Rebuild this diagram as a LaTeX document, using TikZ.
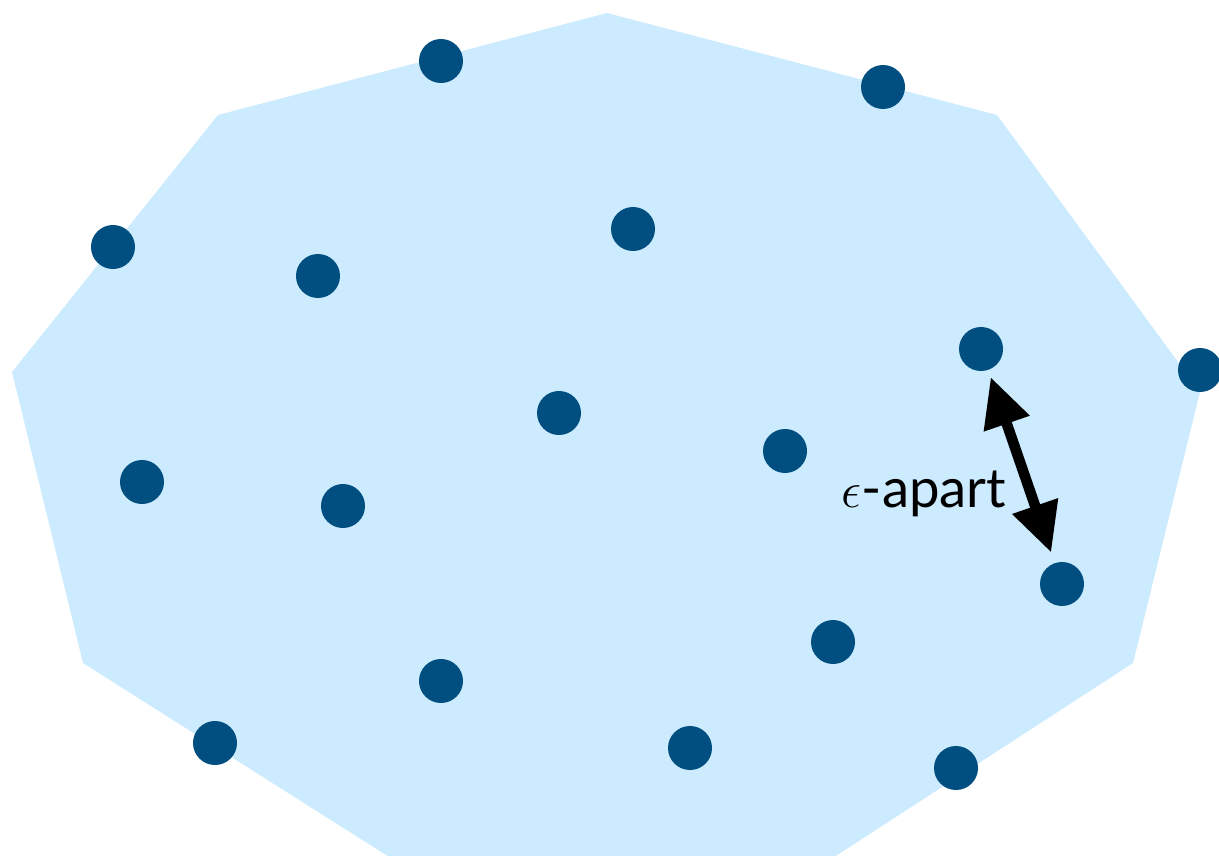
\documentclass[tikz,border=0pt]{standalone}
\usepackage{fontspec}
\setmainfont{Lato}
\usepackage{xcolor}
\usetikzlibrary{arrows.meta}

\definecolor{regionblue}{HTML}{CCEBFE}
\definecolor{pointblue}{HTML}{004F80}

\tikzset{
  pt/.style={circle, fill=pointblue, inner sep=0pt, minimum size=0.44cm},
  gap/.style={line width=3pt,
    {Triangle[length=14pt,width=13pt]}-{Triangle[length=14pt,width=13pt]}}
}

\begin{document}
\begin{tikzpicture}[x=0.01cm, y=-0.01cm]
\useasboundingbox (0,0) rectangle (1219,855);
\clip (0,0) rectangle (1219,855);

% region
\fill[regionblue] (607,13) -- (997,115) -- (1200,392) -- (1133,663)
  -- (768,900) -- (457,900) -- (83,663) -- (12,372) -- (218,115) -- cycle;

% sample points
\foreach \name/\px/\py in {p1/441/61, p2/883/87, p3/113/247, p4/318/276,
    p5/633/229, p6/981/349, p7/1200/370, p8/559/413, p9/785/451,
    p10/142/482, p11/343/506, p12/1062/584, p13/833/642, p14/441/681,
    p15/215/743, p16/690/748, p17/956/768}
  \node[pt] (\name) at (\px,\py) {};

% distance between two neighbours
\draw[gap, shorten <=2pt, shorten >=3pt] (p6) -- (p12);
\node (lbl) at (924,494) {\fontsize{15.5}{18}\selectfont $\epsilon$-apart};
\end{tikzpicture}
\end{document}
